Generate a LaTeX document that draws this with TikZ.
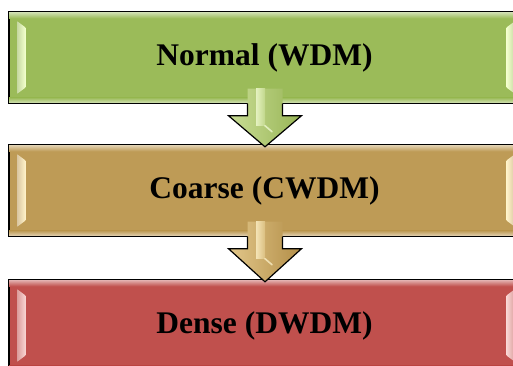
\documentclass[tikz,border=0pt]{standalone}
\usepackage{fontspec}
\setmainfont{Liberation Serif}
\usetikzlibrary{calc,backgrounds}
\definecolor{gbase}{HTML}{9BBB59}
\definecolor{tbase}{HTML}{BE9B56}
\definecolor{rbase}{HTML}{C0504D}
\definecolor{gpale}{HTML}{F2FFCC}
\definecolor{tpale}{HTML}{FFF2C8}
\definecolor{rpale}{HTML}{F8D4D2}
\definecolor{aL}{HTML}{C9DD95}
\definecolor{aR}{HTML}{98B556}
\definecolor{aP}{HTML}{F6FFDC}
\definecolor{bL}{HTML}{E2C78A}
\definecolor{bR}{HTML}{B38E48}
\definecolor{bP}{HTML}{FFF6D2}
\tikzset{
  stagebox/.style={draw=black, line width=1.4pt, minimum width=514pt, minimum height=91pt,
    inner sep=0pt, text=black, font=\bfseries\fontsize{31.5}{36}\selectfont},
  arrowline/.style={draw=black, line width=1.2pt, line join=miter}
}
\newcommand\bevelbox[3]{%
  \begin{pgfonlayer}{background}
    \fill[black, opacity=0.18] ($(#1.south west)+(2,-3.5)$) rectangle ($(#1.north east)+(3,-3.5)$);
  \end{pgfonlayer}
  \path[top color=#2!45!white, bottom color=#2] ($(#1.north west)+(0.8,-0.8)$) rectangle ($(#1.north east)+(-0.8,-7)$);
  \path[bottom color=#2!45!white, top color=#2] ($(#1.south west)+(0.8,0.8)$) rectangle ($(#1.south east)+(-0.8,6)$);
  \path[left color=#2!55!white, right color=#3] ($(#1.north west)+(9,-10)$) -- ($(#1.north west)+(17,-16)$) -- ($(#1.south west)+(17,16)$) -- ($(#1.south west)+(9,10)$) -- cycle;
  \path[left color=#3, right color=#2!55!white] ($(#1.north east)+(-17,-16)$) -- ($(#1.north east)+(-9,-10)$) -- ($(#1.south east)+(-9,10)$) -- ($(#1.south east)+(-17,16)$) -- cycle;
}
\newcommand\blockarrow[5]{%
  \coordinate (#1-s) at ($(#1.south)+(-1,0)$);
  \coordinate (#1-t) at ($(#2.north)+(-1,-2.5)$);
  \path[left color=#3, right color=#4]
    ($(#1-s)+(-17.5,15)$) -- ($(#1-s)+(-17.5,-12)$) -- ($(#1-s)+(-36.5,-12)$) -- (#1-t)
    -- ($(#1-s)+(36.5,-12)$) -- ($(#1-s)+(17.5,-12)$) -- ($(#1-s)+(17.5,15)$) -- cycle;
  \path[left color=#5!60!#3, middle color=#5, right color=#3!85!#4]
    ($(#1-s)+(-9,15)$) rectangle ($(#1-s)+(0,-22)$);
  \draw[#5, line width=1.6pt, opacity=0.7, line cap=round] ($(#1-s)+(0,-22)$) -- ($(#1-s)+(7,-28)$);
  \draw[arrowline] ($(#1-s)+(-17.5,0)$) -- ($(#1-s)+(-17.5,-12)$) -- ($(#1-s)+(-36.5,-12)$) -- (#1-t)
    -- ($(#1-s)+(36.5,-12)$) -- ($(#1-s)+(17.5,-12)$) -- ($(#1-s)+(17.5,0)$);
}
\begin{document}
\begin{tikzpicture}[x=1pt,y=1pt]
\useasboundingbox[fill=white] (0,0) rectangle (513,365);
\node[stagebox, fill=gbase] (normal) at (266,307.5) {\hspace*{-3pt}Normal (WDM)};
\bevelbox{normal}{gbase}{gpale}
\node[stagebox, fill=tbase] (coarse) at (266,174.5) {\hspace*{-3pt}Coarse (CWDM)};
\bevelbox{coarse}{tbase}{tpale}
\node[stagebox, fill=rbase] (dense) at (266,39.5) {\hspace*{-3pt}Dense (DWDM)};
\bevelbox{dense}{rbase}{rpale}
\blockarrow{normal}{coarse}{aL}{aR}{aP}
\blockarrow{coarse}{dense}{bL}{bR}{bP}
\end{tikzpicture}
\end{document}
